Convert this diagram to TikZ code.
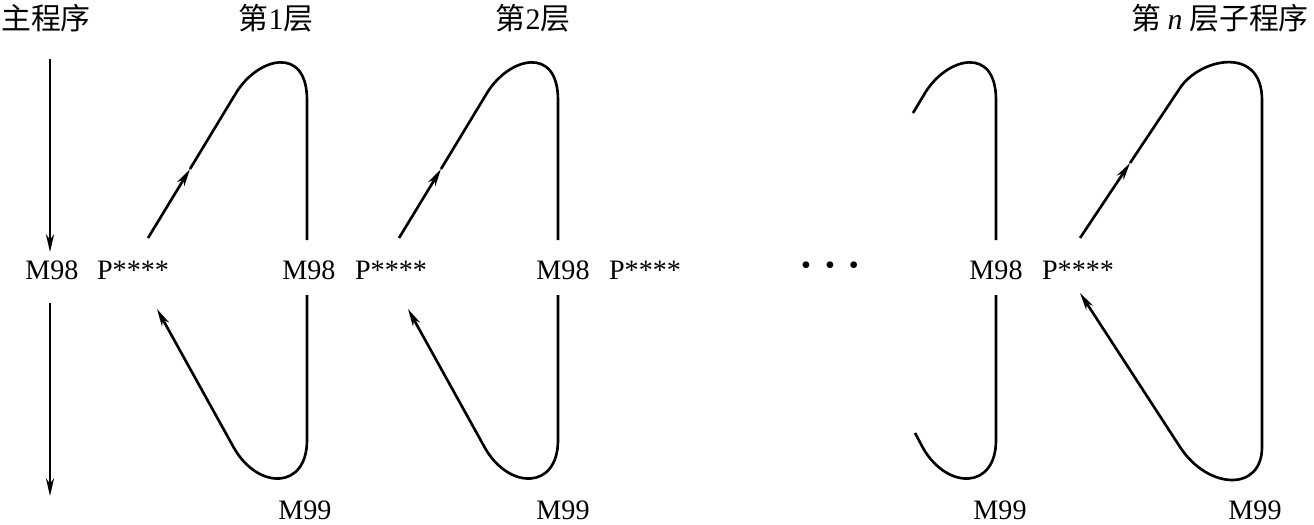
\documentclass[tikz,border=0pt]{standalone}
\usepackage{fontspec}
\setmainfont{Liberation Serif}
\newfontfamily\cjk{Noto Sans CJK SC}
\usetikzlibrary{arrows.meta}
\tikzset{
  lbl/.style={font=\fontsize{16}{18}\selectfont, inner sep=1pt},
  ttl/.style={font=\fontsize{17}{19}\selectfont\cjk, inner sep=1pt},
  wire/.style={line width=1.5pt},
  arr/.style={wire, -{Stealth[length=10pt,width=4.6pt,inset=3pt]}},
}
\begin{document}
\begin{tikzpicture}[x=0.02cm, y=-0.02cm]
  \useasboundingbox (0,0) rectangle (1314,524);
  % titles
  \node[ttl] (tmain) at (46,18) {主程序};
  \node[ttl] (tone) at (276,18) {第{\rmfamily 1}层};
  \node[ttl] (ttwo) at (533,18) {第{\rmfamily 2}层};
  \node[ttl] (tn) at (1220,18) {第 {\rmfamily\itshape n} 层子程序};
  % call row
  \node[lbl] (m0) at (52,270) {M98};
  \node[lbl] (p0) at (133,270) {P****};
  \node[lbl] (m1) at (309,270) {M98};
  \node[lbl] (p1) at (391,270) {P****};
  \node[lbl] (m2) at (563,270) {M98};
  \node[lbl] (p2) at (645,270) {P****};
  \node[lbl] (dots) at (830,268) {\textbullet\hspace{8pt}\textbullet\hspace{8pt}\textbullet};
  \node[lbl] (m3) at (996,270) {M98};
  \node[lbl] (p3) at (1078,270) {P****};
  % returns
  \node[lbl] (r1) at (305,510) {M99};
  \node[lbl] (r2) at (563,510) {M99};
  \node[lbl] (r3) at (1000,510) {M99};
  \node[lbl] (r4) at (1255,510) {M99};
  % main program
  \coordinate (mtop) at (50,59);
  \coordinate (mbot) at (50,496);
  \draw[arr] (mtop) -- (50,252);
  \draw[arr] (50,303) -- (mbot);
  % levels 1 and 2
  \foreach \dx in {0,251} {
    \draw[arr] (148+\dx,238) -- (190+\dx,169);
    \draw[wire] (190+\dx,169) -- (236+\dx,93) .. controls (258+\dx,57) and (307+\dx,45) .. (307+\dx,100) -- (307+\dx,240);
    \draw[arr] (307+\dx,295) -- (307+\dx,440) .. controls (307+\dx,490) and (258+\dx,490) .. (234+\dx,448) -- (157+\dx,309);
  }
  % level n-1, only its ends
  \draw[wire] (913,113) -- (925,93) .. controls (947,57) and (996,45) .. (996,100) -- (996,240);
  \draw[wire] (996,295) -- (996,440) .. controls (996,490) and (947,490) .. (923,448) -- (915,433);
  % level n
  \draw[arr] (1080,238) -- (1130,163);
  \draw[arr] (1130,163) -- (1180,88) .. controls (1200,58) and (1262,45) .. (1262,100) -- (1262,447) .. controls (1262,492) and (1208,490) .. (1180,447) -- (1080,293);
\end{tikzpicture}
\end{document}
